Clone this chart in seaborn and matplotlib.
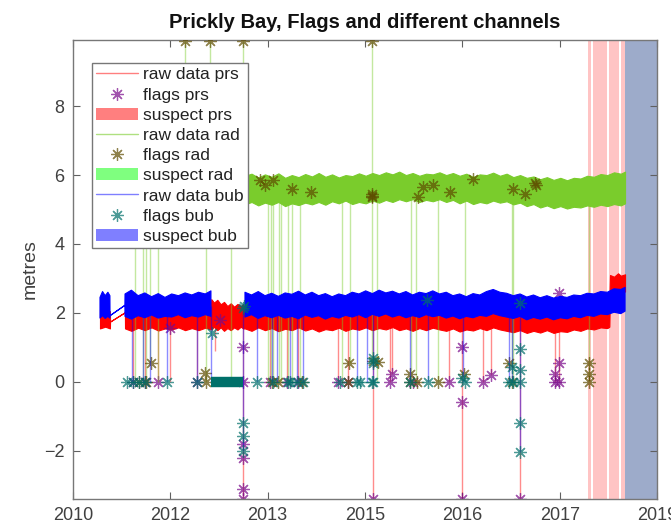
import numpy as np
import pandas as pd
import matplotlib
matplotlib.use("Agg")
import matplotlib.pyplot as plt
import seaborn as sns
from matplotlib.lines import Line2D
from matplotlib.patches import Patch

N = np.nan
# ---------------- data (decimal years, metres) ----------------
# raw data envelopes of the noisy records (lower / upper edge), NaN = gap
bub_t  = [2011.102, 2011.14, 2011.18, 2011.22, 2011.25, 2011.252, 2011.473,
          2011.475, 2011.57, 2011.67, 2011.77, 2011.87, 2011.97, 2012.07, 2012.17,
          2012.27, 2012.37, 2012.47, 2012.57, 2012.67, 2012.755, 2012.76, 2013.255,
          2013.262, 2013.36, 2013.46, 2013.56, 2013.66, 2013.76, 2013.86, 2013.96,
          2014.06, 2014.16, 2014.26, 2014.36, 2014.46, 2014.56, 2014.66, 2014.76,
          2014.86, 2014.96, 2015.06, 2015.16, 2015.26, 2015.36, 2015.46, 2015.56,
          2015.66, 2015.76, 2015.86, 2015.96, 2016.06, 2016.16, 2016.26, 2016.36,
          2016.46, 2016.56, 2016.66, 2016.76, 2016.86, 2016.96, 2017.06, 2017.16,
          2017.26, 2017.36, 2017.46, 2017.56, 2017.66, 2017.76, 2017.86, 2017.96,
          2018.06, 2018.16, 2018.26, 2018.36, 2018.46, 2018.56, 2018.66, 2018.76,
          2018.86, 2018.924]
bub_lo = [1.85, 1.92, 1.84, 1.90, 1.85, 1.92, 2.22,
          1.90, 1.82, 1.92, 1.86, 1.94, 1.85, 1.90, 1.88,
          1.95, 1.86, 1.92, 1.88, 1.95, 1.90, N, N,
          1.88, 1.95, 1.84, 1.92, 1.86, 1.93, 1.85, 1.90,
          1.83, 1.94, 1.87, 1.92, 1.82, 1.90, 1.85, 1.93,
          1.88, 1.95, 1.86, 1.96, 1.90, 1.97, 1.88, 1.94,
          1.86, 1.92, 1.87, 1.95, 1.89, 1.93, 1.85, 1.91,
          1.83, 1.90, 1.86, 1.93, 1.90, 1.98, 1.92, 1.88,
          1.84, 1.90, 1.80, 1.87, 1.82, 1.88, 1.80, 1.86,
          1.83, 1.90, 1.86, 1.93, 1.90, 1.97, 1.95, 2.02,
          1.98, 2.05]
bub_hi = [2.45, 2.62, 2.50, 2.60, 2.50, 1.92, 2.22,
          2.55, 2.66, 2.50, 2.58, 2.47, 2.56, 2.45, 2.55,
          2.50, 2.58, 2.52, 2.60, 2.55, 2.64, N, N,
          2.60, 2.52, 2.62, 2.50, 2.57, 2.48, 2.58, 2.54,
          2.63, 2.52, 2.60, 2.50, 2.56, 2.47, 2.55, 2.50,
          2.60, 2.55, 2.64, 2.56, 2.66, 2.58, 2.63, 2.55,
          2.62, 2.52, 2.60, 2.56, 2.64, 2.55, 2.60, 2.50,
          2.55, 2.47, 2.56, 2.52, 2.62, 2.68, 2.60, 2.57,
          2.50, 2.55, 2.46, 2.52, 2.44, 2.50, 2.43, 2.48,
          2.45, 2.52, 2.50, 2.57, 2.55, 2.62, 2.60, 2.70,
          2.68, 2.74]

prs_t  = [2011.102, 2011.18, 2011.25, 2011.252, 2011.473,
          2011.475, 2011.57, 2011.67, 2011.77, 2011.87, 2011.97, 2012.07, 2012.17,
          2012.27, 2012.37, 2012.47, 2012.57, 2012.67, 2012.755,
          2012.76, 2012.80, 2012.85, 2012.90, 2012.95, 2013.00, 2013.05, 2013.10,
          2013.15, 2013.20, 2013.233,
          2013.262, 2013.36, 2013.46, 2013.56, 2013.66, 2013.76, 2013.86, 2013.96,
          2014.06, 2014.16, 2014.26, 2014.36, 2014.46, 2014.56, 2014.66, 2014.76,
          2014.86, 2014.96, 2015.06, 2015.16, 2015.26, 2015.36, 2015.46, 2015.56,
          2015.66, 2015.76, 2015.86, 2015.96, 2016.06, 2016.16, 2016.26, 2016.36,
          2016.46, 2016.56, 2016.66, 2016.76, 2016.86, 2016.96, 2017.06, 2017.16,
          2017.26, 2017.36, 2017.46, 2017.56, 2017.66, 2017.76, 2017.86, 2017.96,
          2018.06, 2018.16, 2018.26, 2018.36, 2018.46, 2018.56, 2018.66,
          2018.69, 2018.70, 2018.76, 2018.82, 2018.86, 2018.924]
prs_lo = [1.55, 1.60, 1.55, 1.75, 2.02,
          1.55, 1.48, 1.57, 1.50, 1.58, 1.49, 1.55, 1.52,
          1.58, 1.50, 1.56, 1.50, 1.57, 1.52,
          1.52, 1.60, 1.50, 1.58, 1.48, 1.56, 1.50, 1.58,
          1.52, 1.60, 1.55,
          1.55, 1.48, 1.58, 1.50, 1.56, 1.47, 1.54, 1.50,
          1.58, 1.49, 1.55, 1.46, 1.53, 1.50, 1.57, 1.48,
          1.55, 1.51, 1.58, 1.50, 1.56, 1.52, 1.59, 1.50,
          1.55, 1.48, 1.56, 1.50, 1.57, 1.52, 1.48, 1.55,
          1.46, 1.52, 1.49, 1.56, 1.50, 1.58, 1.52, 1.48,
          1.44, 1.50, 1.42, 1.48, 1.43, 1.50, 1.42, 1.47,
          1.45, 1.52, 1.48, 1.55, 1.52, 1.58, 1.56,
          1.60, 2.60, 2.66, 2.58, 2.64, 2.62]
prs_hi = [2.10, 2.12, 2.05, 1.75, 2.02,
          2.10, 2.15, 2.08, 2.14, 2.10, 2.15, 2.10, 2.14,
          2.10, 2.16, 2.12, 2.15, 2.12, 2.18,
          2.40, 2.30, 2.38, 2.25, 2.32, 2.20, 2.28, 2.18,
          2.26, 2.20, 2.25,
          2.15, 2.10, 2.18, 2.12, 2.16, 2.10, 2.15, 2.12,
          2.18, 2.10, 2.15, 2.10, 2.14, 2.10, 2.16, 2.10,
          2.15, 2.12, 2.18, 2.12, 2.16, 2.12, 2.18, 2.12,
          2.15, 2.10, 2.16, 2.12, 2.17, 2.12, 2.10, 2.15,
          2.08, 2.12, 2.10, 2.15, 2.12, 2.18, 2.14, 2.10,
          2.06, 2.12, 2.05, 2.10, 2.06, 2.12, 2.05, 2.10,
          2.08, 2.14, 2.12, 2.18, 2.15, 2.22, 2.25,
          2.35, 3.10, 3.05, 3.15, 3.08, 3.12]

rad_t  = [2011.475, 2011.8, 2012.1, 2012.4, 2012.7, 2013.0, 2013.2,
          2013.262, 2013.36, 2013.46, 2013.56, 2013.66, 2013.76, 2013.86, 2013.96,
          2014.06, 2014.16, 2014.26, 2014.36, 2014.46, 2014.56, 2014.66, 2014.76,
          2014.86, 2014.96, 2015.06, 2015.16, 2015.26, 2015.36, 2015.46, 2015.56,
          2015.66, 2015.76, 2015.86, 2015.96, 2016.06, 2016.16, 2016.26, 2016.36,
          2016.46, 2016.56, 2016.66, 2016.76, 2016.86, 2016.96, 2017.06, 2017.16,
          2017.26, 2017.36, 2017.46, 2017.56, 2017.66, 2017.76, 2017.86, 2017.96,
          2018.06, 2018.16, 2018.26, 2018.36, 2018.46, 2018.56, 2018.66, 2018.76,
          2018.86, 2018.924]
rad_lo = [5.15, 5.20, 5.12, 5.18, 5.14, 5.20, 5.15,
          5.15, 5.22, 5.12, 5.20, 5.14, 5.22, 5.10, 5.18,
          5.13, 5.20, 5.15, 5.22, 5.14, 5.24, 5.18, 5.26,
          5.16, 5.22, 5.18, 5.26, 5.20, 5.28, 5.22, 5.30,
          5.24, 5.30, 5.22, 5.28, 5.24, 5.30, 5.22, 5.28,
          5.18, 5.26, 5.16, 5.22, 5.18, 5.26, 5.20, 5.24,
          5.15, 5.20, 5.10, 5.16, 5.06, 5.12, 5.04, 5.10,
          5.03, 5.08, 5.06, 5.12, 5.08, 5.14, 5.10, 5.16,
          5.12, 5.18]
rad_hi = [5.95, 6.02, 5.96, 6.03, 5.95, 6.02, 5.97,
          5.98, 6.04, 5.93, 6.02, 5.95, 6.05, 5.92, 6.00,
          5.94, 6.03, 5.96, 6.06, 5.95, 6.02, 5.93, 6.00,
          5.97, 6.05, 5.98, 6.06, 6.00, 6.08, 6.02, 6.10,
          6.00, 6.06, 5.98, 6.04, 6.02, 6.08, 6.00, 6.06,
          5.98, 6.04, 5.95, 6.02, 6.00, 6.07, 5.98, 6.04,
          5.94, 6.00, 5.92, 5.96, 5.88, 5.94, 5.86, 5.92,
          5.85, 5.92, 5.90, 5.98, 5.95, 6.03, 6.00, 6.08,
          6.04, 6.10]

# dropouts / spikes: (time, value reached)
prs_spike_t = [2011.594, 2011.773, 2011.966, 2012.145, 2012.547, 2012.815, 2013.233,
               2013.635, 2013.888, 2014.052, 2014.648, 2014.797, 2015.169, 2015.423,
               2015.452, 2016.302, 2016.495, 2016.808, 2016.927, 2017.359, 2017.881, 2017.940]
prs_spike_v = [0.0, 0.0, 0.0, 0.0, 0.0, 0.9, -3.4,
               0.0, 0.0, 0.0, 0.0, 0.0, -3.4, 0.0,
               0.24, 0.0, -3.4, 0.0, 0.2, -3.4, 0.0, 0.0]
rad_spike_t = [2011.624, 2011.743, 2011.788, 2011.847, 2011.966, 2012.681, 2013.054,
               2013.605, 2013.650, 2013.680, 2013.769, 2013.799, 2013.903, 2013.963,
               2014.082, 2014.708, 2014.827, 2015.155, 2015.229, 2015.736, 2015.810,
               2016.138, 2016.540, 2017.240, 2017.255, 2018.387]
rad_spike_v = [0.0, 0.0, 0.0, 0.55, 0.0, 0.0, 0.0,
               0.0, 0.0, 0.0, 0.0, 0.0, 0.0, 0.0,
               0.0, 0.0, 0.55, 0.55, 0.0, 0.0, 0.0,
               0.0, 2.4, 0.0, 0.0, 0.0]
rad_up_t = [2012.369, 2012.741, 2013.233, 2015.155]
rad_up_v = [9.9, 9.9, 9.9, 9.9]
bub_spike_t = [2011.579, 2011.743, 2011.847, 2012.100, 2012.547, 2012.756, 2013.233,
               2013.441, 2013.665, 2013.739, 2013.933, 2014.037, 2014.127, 2014.931,
               2015.080, 2015.169, 2015.721, 2015.989, 2016.510, 2017.195, 2017.240, 2017.359]
bub_spike_v = [0.0, 0.0, 0.0, 0.0, 0.0, 0.0, -2.0,
               0.0, 0.0, 0.0, 0.0, 0.0, 0.0, 0.0,
               0.0, 0.0, 0.0, 0.0, 0.0, 0.0, 0.0, -2.03]

# flags
flag_prs_t = [2011.594, 2011.773, 2011.966, 2012.547, 2013.233, 2013.233, 2013.233,
              2013.233, 2013.233, 2013.233, 2013.635, 2013.888, 2014.052, 2014.648,
              2014.797, 2015.169, 2015.423, 2015.452, 2015.765, 2016.302, 2016.495,
              2016.495, 2016.495, 2016.808, 2016.927, 2017.359, 2017.881, 2017.881,
              2017.940, 2017.940, 2017.940, 2012.145, 2012.890]
flag_prs_v = [0.0, 0.0, 0.0, 0.0, 1.0, -1.8, -2.2, -3.1, -3.4, 0.0,
              0.0, 0.0, 0.0, 0.0,
              0.0, -3.4, 0.0, 0.24, 0.0, 0.0, 1.0,
              -0.58, -3.4, 0.0, 0.2, -3.4, 0.0, 0.24,
              0.55, 0.0, 2.58, 1.55, 1.8]
flag_rad_t = [2012.369, 2012.741, 2013.233, 2015.155,
              2013.486, 2013.560, 2013.680, 2013.963, 2014.246, 2015.155, 2015.160,
              2015.150, 2015.840, 2015.914, 2016.063, 2016.317, 2016.659, 2017.255,
              2017.434, 2017.583, 2017.600,
              2011.683, 2011.788, 2011.866, 2012.667, 2012.681, 2013.665, 2013.754,
              2014.112, 2014.797, 2014.812, 2015.169, 2015.244, 2015.721, 2015.721,
              2015.825, 2016.138, 2016.525, 2017.195, 2017.240, 2018.387, 2018.387,
              2018.387]
flag_rad_v = [9.9, 9.9, 9.9, 9.9,
              5.85, 5.70, 5.85, 5.60, 5.50, 5.40, 5.45,
              5.35, 5.37, 5.65, 5.70, 5.50, 5.88, 5.60,
              5.45, 5.77, 5.72,
              0.0, 0.0, 0.55, 0.25, 0.0, 0.0, 0.0,
              0.0, 0.0, 0.55, 0.6, 0.58, 0.24, 0.0,
              0.0, 0.0, 0.24, 0.55, 0.0, 0.55, 0.24,
              0.0]
flag_bub_t = [2011.504, 2011.594, 2011.683, 2011.773, 2012.100, 2012.547,
              2013.441, 2013.680, 2013.903, 2013.933, 2014.037, 2014.127, 2014.678,
              2014.931, 2014.976, 2015.155, 2015.169, 2015.169, 2015.169, 2015.721,
              2015.989, 2016.540, 2017.195, 2017.255, 2017.359, 2017.359, 2017.359,
              2017.359, 2017.359, 2017.359, 2012.771, 2013.233, 2013.233, 2013.233,
              2013.233, 2013.240, 2015.974, 2017.240, 2016.495]
flag_bub_v = [0.0, 0.0, 0.0, 0.0, 0.0, 0.0,
              0.0, 0.0, 0.0, 0.0, 0.0, 0.0, 0.0,
              0.0, 0.0, 0.0, 0.0, 0.7, 0.55, 0.0,
              0.0, 0.0, 0.0, 0.0, 0.0, 0.35, 0.95,
              -1.2, -2.03, 2.3, 1.42, -1.2, -1.56, -2.0,
              2.15, 2.2, 2.38, 0.43, 0.1]
# a continuous run of bub flags at zero
flag_bub_run = [(2012.76, 2013.235)]

# suspect periods
sus_prs = [(2018.372, 2018.424), (2018.444, 2018.660), (2018.680, 2018.838), (2018.858, 2018.924)]
sus_rad = [(2012.722, 2012.730)]
sus_bub = [(2012.856, 2012.864), (2018.924, 2019.40)]

x_ticks = [2010.70, 2012.15, 2013.60, 2015.05, 2016.50, 2017.95, 2019.40]
x_ticklabels = ["2010", "2012", "2013", "2015", "2016", "2017", "2019"]
y_ticks = [-2, 0, 2, 4, 6, 8]

# ---------------- plotting ----------------
sns.set_theme(style="white")
plt.rcParams['font.family'] = ['Liberation Sans', 'DejaVu Sans']

C_PRS, C_RAD, C_BUB = "#ff0000", "#7acc2c", "#0000ff"
F_PRS, F_RAD, F_BUB = "#7a0a8a", "#5e4c00", "#00706a"
AST = (8, 2, 0)

fig = plt.figure(figsize=(6.71, 5.29), dpi=100)
ax = fig.add_axes([73/671, 30/529, (657-73)/671, (499-40)/529])

for a, b in sus_prs:
    ax.axvspan(a, b, color="#ffc4c4", lw=0, zorder=0)
for a, b in sus_rad:
    ax.axvspan(a, b, color="#dff5d8", lw=0, zorder=0)
for a, b in sus_bub:
    col = "#9dabca" if b - a > 0.1 else "#dcdcf8"
    ax.axvspan(a, b, color=col, lw=0, zorder=0)

def band(t, lo, hi, c, z):
    d = pd.DataFrame({"t": t, "lo": lo, "hi": hi})
    ax.fill_between(d["t"], d["lo"], d["hi"], color=c, lw=0.8, ec=c, zorder=z)

def spikes(t, v, bandmid, c, z):
    ax.vlines(t, [bandmid] * len(t), v, colors=c, lw=1.0, alpha=0.45, zorder=z)

def flags(t, v, c, z):
    ax.plot(t, v, ls="none", marker=AST, ms=9, mew=0.9, mec=c, color=c, alpha=0.7, zorder=z)

spikes(prs_spike_t, prs_spike_v, 1.8, C_PRS, 2)
band(prs_t, prs_lo, prs_hi, C_PRS, 2.1)
flags(flag_prs_t, flag_prs_v, F_PRS, 2.2)

spikes(rad_spike_t, rad_spike_v, 5.5, C_RAD, 3)
spikes(rad_up_t, rad_up_v, 5.5, C_RAD, 3)
band(rad_t, rad_lo, rad_hi, C_RAD, 3.1)
flags(flag_rad_t, flag_rad_v, F_RAD, 3.2)

spikes(bub_spike_t, bub_spike_v, 2.2, C_BUB, 4)
band(bub_t, bub_lo, bub_hi, C_BUB, 4.1)
for a, b in flag_bub_run:
    sns.lineplot(x=[a, b], y=[0.0, 0.0], color=F_BUB, lw=7.5, ax=ax, zorder=4.2,
                 solid_capstyle="butt")
flags(flag_bub_t, flag_bub_v, F_BUB, 4.3)

ax.set_xlim(2010.70, 2019.40)
ax.set_ylim(-3.4, 9.92)
ax.set_xticks(x_ticks)
ax.set_xticklabels(x_ticklabels)
ax.set_yticks(y_ticks)
ax.set_yticklabels(["\u22122", "0", "2", "4", "6", "8"])
ax.tick_params(direction="in", length=5, width=0.8, color="#606060",
               labelsize=13, labelcolor="#404040", top=True, right=True,
               bottom=True, left=True, pad=6)
for s in ax.spines.values():
    s.set_color("#777777")
    s.set_linewidth(1.0)
ax.set_ylabel("metres", fontsize=14, color="#404040", labelpad=4)
ax.set_title("Prickly Bay, Flags and different channels", fontsize=14.5,
             fontweight="bold", color="#111111", pad=8.5)

handles = [
    Line2D([], [], color=C_PRS, lw=1, alpha=0.5),
    Line2D([], [], ls="none", marker=AST, ms=9, mew=0.9, mec=F_PRS, alpha=0.7),
    Patch(facecolor="#ff7f7f", edgecolor="none"),
    Line2D([], [], color=C_RAD, lw=1, alpha=0.6),
    Line2D([], [], ls="none", marker=AST, ms=9, mew=0.9, mec=F_RAD, alpha=0.7),
    Patch(facecolor="#7fff7f", edgecolor="none"),
    Line2D([], [], color=C_BUB, lw=1, alpha=0.5),
    Line2D([], [], ls="none", marker=AST, ms=9, mew=0.9, mec=F_BUB, alpha=0.7),
    Patch(facecolor="#7f7fff", edgecolor="none"),
]
labels = ["raw data prs", "flags prs", "suspect prs", "raw data rad", "flags rad",
          "suspect rad", "raw data bub", "flags bub", "suspect bub"]
leg = ax.legend(handles, labels, loc="upper left", bbox_to_anchor=(0.0325, 0.950),
                borderaxespad=0, fontsize=12.5, labelspacing=0.29, handlelength=2.4,
                handletextpad=0.3, borderpad=0.25, fancybox=False, framealpha=1,
                edgecolor="#777777")
leg.get_frame().set_linewidth(1.0)
leg.set_zorder(10)
for txt in leg.get_texts():
    txt.set_color("#222222")

fig.savefig("out.png", dpi=100)
